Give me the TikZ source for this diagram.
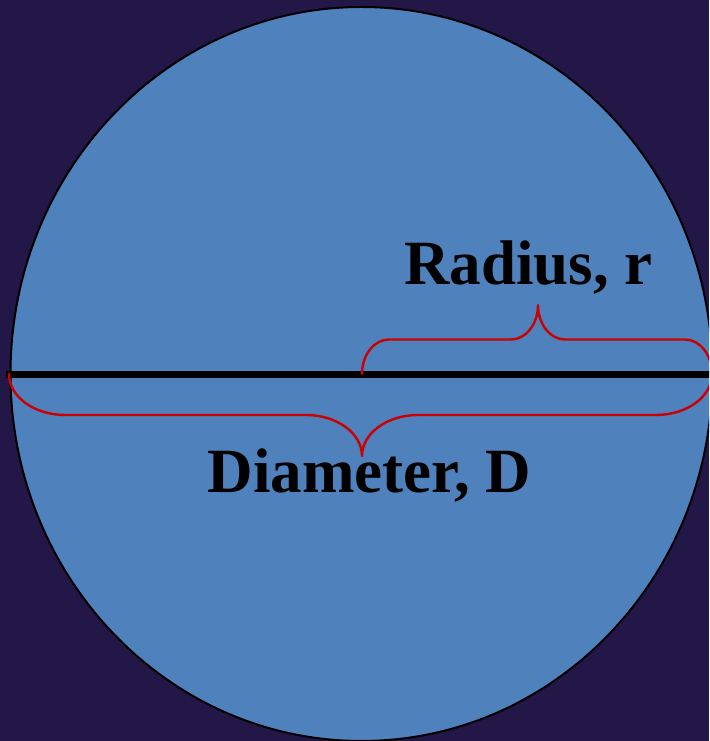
\documentclass[tikz,border=0pt]{standalone}
\usepackage{fontspec}
\setmainfont{Liberation Serif}
\definecolor{bgpurple}{HTML}{231748}
\definecolor{diskblue}{HTML}{4F81BD}
\definecolor{bracered}{HTML}{CC0000}
\begin{document}
\begin{tikzpicture}[x=1pt,y=1pt,
  bracestyle/.style={draw=bracered,line width=2.4pt,line cap=round,line join=round},
  lbl/.style={font=\fontsize{63}{70}\selectfont\bfseries,text=black,inner sep=0pt,anchor=base}]
\useasboundingbox (0,0) rectangle (709,741);
\fill[bgpurple] (0,0) rectangle (709,741);
\clip (0,0) rectangle (709,741);
\coordinate (c) at (361.5,367);
\draw[fill=diskblue,draw=black,line width=2pt] (c) ellipse[x radius=351,y radius=367];
\coordinate (dl) at (6,366);
\coordinate (dr) at (715,366);
\draw[black,line width=7pt] (dl) -- (dr);
% diameter brace
\draw[bracestyle] (9,367) arc[start angle=180,end angle=270,x radius=56,y radius=41]
  -- (306,326) arc[start angle=90,end angle=0,x radius=56,y radius=41]
  arc[start angle=180,end angle=90,x radius=56,y radius=41]
  -- (656,326) arc[start angle=270,end angle=360,x radius=56,y radius=41];
% radius brace
\draw[bracestyle] (362,367) arc[start angle=180,end angle=90,x radius=27,y radius=34.5]
  -- (511,401.5) arc[start angle=270,end angle=360,x radius=27,y radius=34.5]
  arc[start angle=180,end angle=270,x radius=27,y radius=34.5]
  -- (685,401.5) arc[start angle=90,end angle=0,x radius=27,y radius=34.5];
\node[lbl] (rad) at (528.5,456) {Radius, r};
\node[lbl] (dia) at (369.5,248) {Diameter, D};
\end{tikzpicture}
\end{document}
